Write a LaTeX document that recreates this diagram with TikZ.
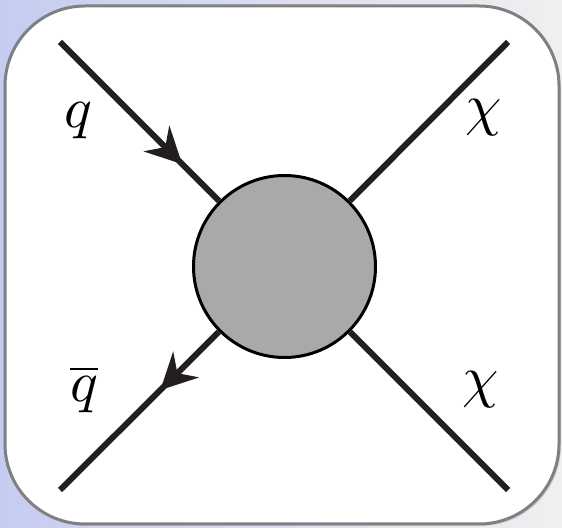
\documentclass[tikz,border=0pt]{standalone}
\usepackage{graphicx}
\usepackage{tikz}
\usetikzlibrary{arrows.meta,decorations.markings,shadows}

\definecolor{slidebg}{RGB}{198,204,240}
\definecolor{linedark}{RGB}{35,31,32}
\definecolor{blobgray}{RGB}{169,169,169}
\newcommand{\biglbl}[1]{\scalebox{2.9}{$#1$}}

\begin{document}
\begin{tikzpicture}[x=0.5pt,y=-0.5pt]
	\tikzstyle{leg} = [line width=3pt, draw=linedark];
	\tikzstyle{blob} = [circle, draw=black, line width=1.5pt, fill=blobgray, minimum size=91pt, inner sep=0pt];
	\tikzstyle{lbl} = [anchor=base, inner sep=0pt];
	\tikzstyle{fermion} = [postaction={decorate}, decoration={markings,
		mark=at position #1 with {\arrow{Stealth[length=18pt,width=18pt,inset=6pt]}}}];
	
	% slide background and panel
	\useasboundingbox (0,0) rectangle (562,528);
	\shade[left color=slidebg, right color=gray!12] (0,0) rectangle (562,528);
	\draw[gray, line width=1.5pt, fill=white, rounded corners=40pt,
		drop shadow={opacity=0.25, shadow xshift=1pt, shadow yshift=-1pt}]
		(5,6) rectangle (559,524);
	
	\node[blob] (B) at (284.5,266.5) {};
	\coordinate (Q) at (60,42);
	\coordinate (Qb) at (60,490);
	\coordinate (X1) at (508,42);
	\coordinate (X2) at (508,490);
	
	\path[leg, fermion=0.77] (Q) -- (B);
	\path[leg, fermion=0.37] (B) -- (Qb);
	\path[leg] (B) -- (X1);
	\path[leg] (B) -- (X2);
	
	\node[lbl] (lq) at (78,128) {\biglbl{q}};
	\node[lbl] (lqb) at (84,402) {\biglbl{\overline{q}}};
	\node[lbl] (lx1) at (484,125) {\biglbl{\chi}};
	\node[lbl] (lx2) at (481,397) {\biglbl{\chi}};
\end{tikzpicture}
\end{document}
